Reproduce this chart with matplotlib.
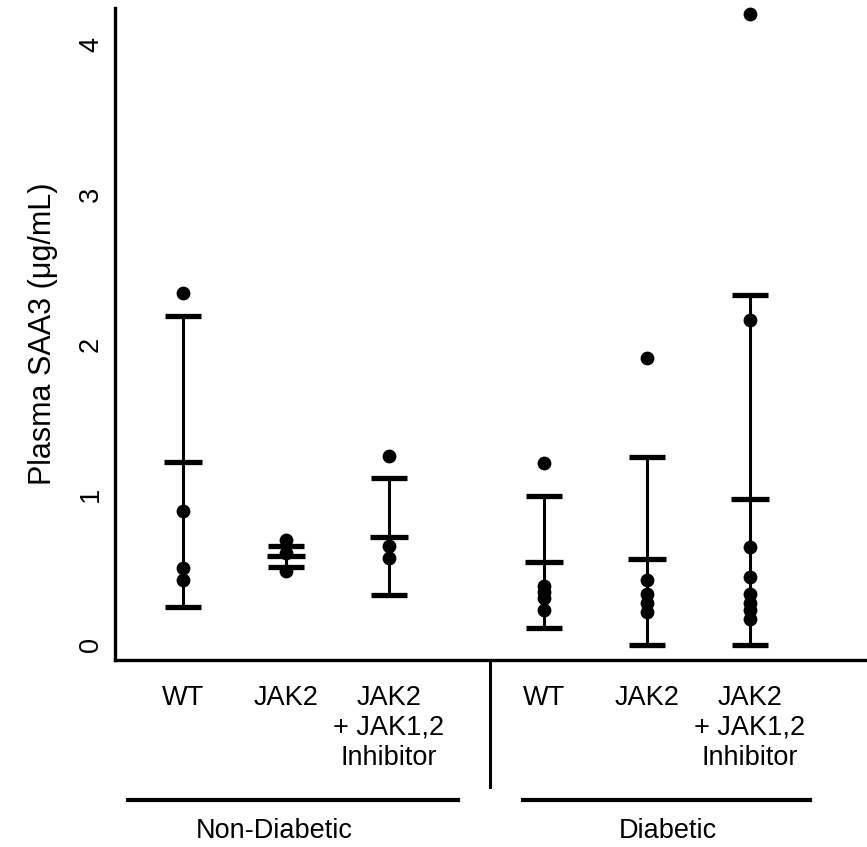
import matplotlib.pyplot as plt
import matplotlib.transforms as mtransforms
import numpy as np

plt.rcParams['font.family'] = ['Liberation Sans', 'DejaVu Sans']

groups = ['Non-Diabetic', 'Diabetic']
treatments = ['WT', 'JAK2', 'JAK2\n+ JAK1,2\nInhibitor']

# individual animals, per group (Non-Diabetic WT, JAK2, Inh, Diabetic WT, JAK2, Inh)
nd_wt = [2.34, 0.89, 0.51, 0.43]
nd_jak2 = [0.70, 0.61, 0.49]
nd_inh = [1.26, 0.66, 0.58]
d_wt = [1.21, 0.39, 0.35, 0.31, 0.23]
d_jak2 = [1.91, 0.43, 0.34, 0.28, 0.22]
d_inh = [4.20, 2.16, 0.65, 0.45, 0.34, 0.28, 0.23, 0.17]
points = [nd_wt, nd_jak2, nd_inh, d_wt, d_jak2, d_inh]

means = [1.22, 0.59, 0.72, 0.55, 0.57, 0.97]
sds = [0.97, 0.07, 0.39, 0.44, 0.68, 1.36]

xpos = np.array([0, 1, 2, 3.5, 4.5, 5.5])

fig = plt.figure(figsize=(8.67, 8.47), dpi=100)
ax = fig.add_axes([115 / 867, 1 - 660 / 847, 1 - 115 / 867, 652 / 847])

for x, vals in zip(xpos, points):
    ax.scatter([x] * len(vals), vals, s=80, color='black', zorder=3,
               clip_on=False)

means = np.array(means)
sds = np.array(sds)
lower = np.minimum(sds, means)
ax.errorbar(xpos, means, yerr=[lower, sds], fmt='none', ecolor='black',
            elinewidth=2.2, capsize=13, capthick=3.8, zorder=2)
ax.plot(xpos, means, linestyle='none', marker='_', markersize=27,
        mew=3.8, color='black', zorder=2)

ax.set_xlim(-0.66, 6.64)
ax.set_ylim(-0.1, 4.24)
ax.set_yticks([0, 1, 2, 3, 4])
ax.set_xticks([])
ax.tick_params(axis='y', length=0, pad=8, labelsize=19.5)
for lbl in ax.get_yticklabels():
    lbl.set_rotation(90)
    lbl.set_va('center')
ax.set_ylabel('Plasma SAA3 (μg/mL)', fontsize=22, labelpad=14)

for side in ['top', 'right']:
    ax.spines[side].set_visible(False)
for side in ['left', 'bottom']:
    ax.spines[side].set_linewidth(2.4)

trans = mtransforms.blended_transform_factory(ax.transData, ax.transAxes)
for x, t in zip(xpos, treatments * 2):
    ax.text(x, -0.038, t, transform=trans, ha='center', va='top',
            fontsize=19.5, linespacing=1.2)

# divider between the two groups
ax.plot([2.98, 2.98], [0, -0.195], transform=trans, color='black',
        lw=2.2, clip_on=False)

# group brackets and names
ax.plot([-0.53, 2.67], [-0.215, -0.215], transform=trans, color='black',
        lw=3, clip_on=False)
ax.plot([3.30, 6.09], [-0.215, -0.215], transform=trans, color='black',
        lw=3, clip_on=False)
ax.text(0.89, -0.262, groups[0], transform=trans, ha='center', va='center',
        fontsize=19.5)
ax.text(4.71, -0.262, groups[1], transform=trans, ha='center', va='center',
        fontsize=19.5)

fig.savefig('out.png', dpi=100)
